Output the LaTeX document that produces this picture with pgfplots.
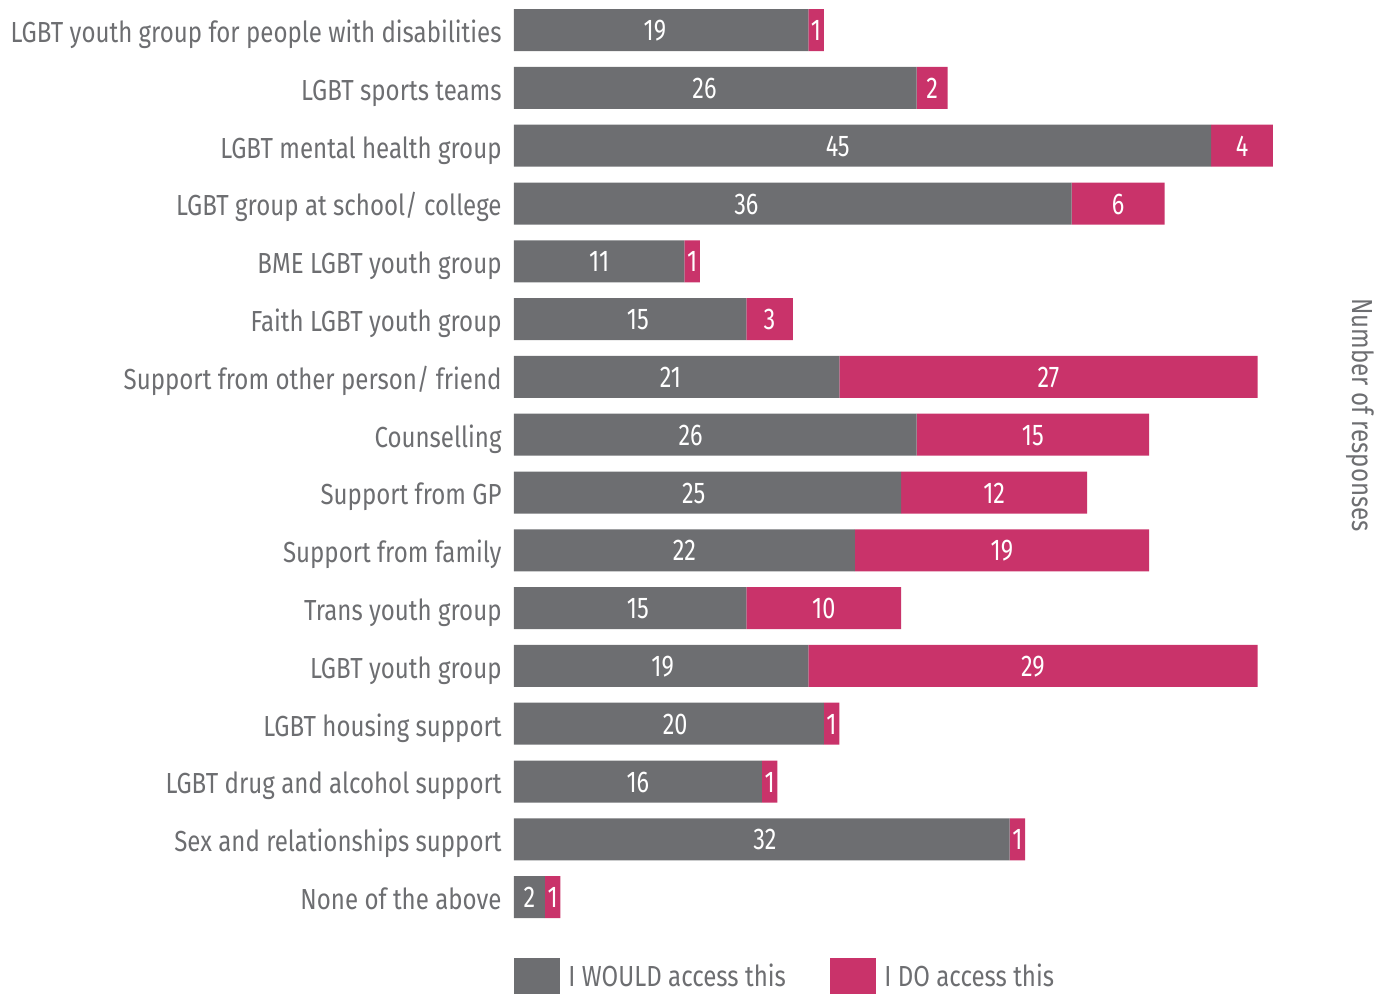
\documentclass[border=0pt]{standalone}
\usepackage{pgfplots}
\usepackage{pgfplotstable}
\pgfplotsset{compat=1.18}
\usepackage{fontspec}
\setmainfont{Fira Sans}[FakeStretch=0.83]
\newfontfamily\numfont{Fira Sans}[FakeStretch=0.78]
\definecolor{wgray}{HTML}{6D6E71}
\definecolor{dopink}{HTML}{C9336A}
\definecolor{tgray}{HTML}{6D6E71}
% wo: horizontal offset of the value label from the segment centre
\pgfplotstableread{
idx would do wo
0 19 1 -0.4
1 26 2 -0.7
2 45 4 -1.6
3 36 6 -3.0
4 11 1 0
5 15 3 0.5
6 21 27 -0.4
7 26 15 -1.6
8 25 12 -0.9
9 22 19 0
10 15 10 0.5
11 19 29 0.1
12 20 1 0.4
13 16 1 0
14 32 1 0.2
15 2 1 0
}\datatable
\begin{document}
\begin{tikzpicture}
\begin{axis}[name=ax, scale only axis, width=379.5pt, height=462.4pt,
  xbar stacked, bar width=21pt, clip=false,
  xmin=0, xmax=49, ymin=-0.5, ymax=15.5, y dir=reverse,
  axis line style={draw=none}, major tick style={draw=none}, xtick=\empty,
  ytick={0,...,15},
  yticklabels={LGBT youth group for people with disabilities, LGBT sports teams, LGBT mental health group, LGBT group at school/ college, BME LGBT youth group, Faith LGBT youth group, Support from other person/ friend, Counselling, Support from GP, Support from family, Trans youth group, LGBT youth group, LGBT housing support, LGBT drug and alcohol support, Sex and relationships support, None of the above},
  yticklabel style={inner sep=0pt, anchor=base east, xshift=-6pt, yshift=-6.2pt, text=tgray, font=\fontsize{14.5}{16}\selectfont},
  /pgf/number format/assume math mode=true,
  nodes near coords,
  point meta=explicit,
  every node near coord/.style={anchor=base, inner sep=0pt, yshift=-5.3pt, text=white, font=\numfont\fontsize{15}{17}\selectfont},
  legend style={draw=none, fill=none, at={(0,0)}, anchor=north west, yshift=-16pt, inner sep=0pt,
    legend columns=2, nodes={inner sep=0pt, text=tgray, font=\fontsize{14.5}{16}\selectfont},
    /tikz/every odd column/.append style={column sep=4pt}},
]
\addplot[fill=wgray, draw=none,
  visualization depends on={\thisrow{wo} \as \wo},
  every node near coord/.style={anchor=base, inner sep=0pt, yshift=-5.3pt, text=white, font=\numfont\fontsize{15}{17}\selectfont, shift={(axis direction cs:\wo,0)}},
  legend image code/.code={\fill[wgray] (0pt,-9pt) rectangle (23pt,9pt);}]
  table[x=would, y=idx, meta=would] {\datatable};
\addplot[fill=dopink, draw=none,
  legend image code/.code={\fill[dopink] (0pt,-9pt) rectangle (23pt,9pt);}]
  table[x=do, y=idx, meta=do] {\datatable};
\legend{{\makebox[131pt][l]{I WOULD access this}}, {I DO access this}}
\end{axis}
\node[rotate=-90, anchor=center, text=tgray, font=\fontsize{14.5}{16}\selectfont] at ([shift={(423pt,255.5pt)}]ax.south west) {Number of responses};
\path ([shift={(-257pt,-34pt)}]ax.south west) rectangle ([shift={(438.5pt,463pt)}]ax.south west);
\end{tikzpicture}
\end{document}
